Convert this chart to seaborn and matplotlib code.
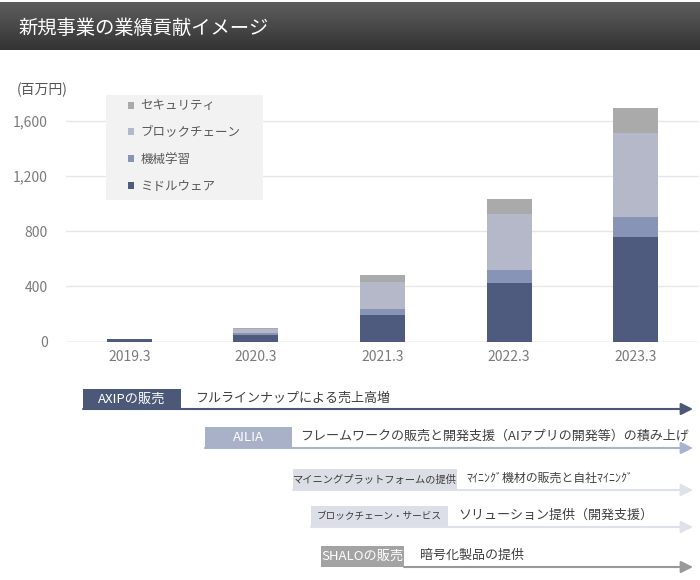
import numpy as np
import pandas as pd
import matplotlib
matplotlib.use("Agg")
import matplotlib.pyplot as plt
from matplotlib.patches import Patch, Rectangle
import seaborn as sns

# ---- data ----
years = ["2019.3", "2020.3", "2021.3", "2022.3", "2023.3"]
middleware = [22, 48, 190, 425, 758]
machine_learning = [0, 14, 45, 95, 144]
blockchain = [0, 30, 200, 405, 606]
security = [0, 10, 48, 105, 181]
series_names = ["ミドルウェア", "機械学習", "ブロックチェーン", "セキュリティ"]
y_ticks = [0, 400, 800, 1200, 1600]
y_tick_labels = ["0", "400", "800", "1,200", "1,600"]
unit_label = "(百万円)"
title = "新規事業の業績貢献イメージ"

rows = [
    ("AXIPの販売", "フルラインナップによる売上高増"),
    ("AILIA", "フレームワークの販売と開発支援（AIアプリの開発等）の積み上げ"),
    ("マイニングプラットフォームの提供", "ﾏｲﾆﾝｸﾞ機材の販売と自社ﾏｲﾆﾝｸﾞ"),
    ("ブロックチェーン・サービス", "ソリューション提供（開発支援）"),
    ("SHALOの販売", "暗号化製品の提供"),
]

colors = ["#4e5b7e", "#8794b6", "#b4b8c9", "#aaaaaa"]

sns.set_style("white")
plt.rcParams["font.family"] = ["Noto Sans CJK JP", "DejaVu Sans"]

W, H = 700, 580
fig = plt.figure(figsize=(7, 5.8), dpi=100)
fig.patch.set_facecolor("white")

# ---- main chart ----
ax_left, ax_right, ax_bottom, ax_top = 66, 699, 341.7, 100
ax = fig.add_axes([ax_left / W, 1 - ax_bottom / H, (ax_right - ax_left) / W,
                   (ax_bottom - ax_top) / H])

df = pd.DataFrame({"year": years, "mw": middleware, "ml": machine_learning,
                   "bc": blockchain, "sec": security})
stack = [df["mw"], df["ml"], df["bc"], df["sec"]]
cums = np.cumsum(np.array(stack, dtype=float), axis=0)

for i in range(3, -1, -1):
    sns.barplot(x=df["year"], y=cums[i], color=colors[i], saturation=1,
                width=0.356, ax=ax, linewidth=0, zorder=2)

ax.set_ylim(0, 1750)
ax.set_xlim(-0.5, 4.5)
ax.set_yticks(y_ticks)
ax.set_yticklabels(y_tick_labels)
ax.set_xlabel("")
ax.set_ylabel("")
for s in ax.spines.values():
    s.set_visible(False)
ax.yaxis.grid(True, color="#e6e6e6", lw=1)
ax.set_axisbelow(True)
ax.axhline(0, color="#dadada", lw=1, zorder=1)
ax.tick_params(axis="y", length=0, pad=13, labelsize=10, labelcolor="#7a7a7a")
ax.tick_params(axis="x", length=0, pad=6, labelsize=10, labelcolor="#7a7a7a")
ax.patch.set_alpha(0)

# legend background box (covers gridlines like the reference)
ax.add_patch(Rectangle((106 / W, 1 - 200 / H), 157 / W, 105 / H,
                       transform=fig.transFigure, facecolor="#f2f2f2",
                       edgecolor="none", zorder=6, clip_on=False))

handles = [Patch(facecolor=colors[i], edgecolor="none", label=series_names[i])
           for i in range(3, -1, -1)]
leg = ax.legend(handles=handles, loc="upper left",
                bbox_to_anchor=(128 / W, 1 - 99.5 / H),
                bbox_transform=fig.transFigure,
                frameon=False, fontsize=9, handlelength=0.5, handleheight=0.5,
                handletextpad=0.5, labelspacing=1.1, borderpad=0,
                borderaxespad=0)
leg.set_zorder(10)
for t in leg.get_texts():
    t.set_color("#595959")

fig.text(17 / W, 1 - 89.5 / H, unit_label, ha="left", va="center",
         fontsize=10, color="#555555")

# ---- title bar ----
tb = fig.add_axes([0, 1 - 50 / H, 1, 48 / H])
grad = np.linspace(0, 1, 100).reshape(-1, 1)
top_c = np.array([0x5e, 0x5e, 0x5e]) / 255
bot_c = np.array([0x33, 0x33, 0x33]) / 255
img = top_c[None, None, :] * (1 - grad[:, :, None]) + bot_c[None, None, :] * grad[:, :, None]
tb.imshow(np.repeat(img, 2, axis=1), aspect="auto", extent=(0, 1, 0, 1))
tb.set_axis_off()
tb.text(18 / W, 0.44, title, color="white", fontsize=13.9, ha="left", va="center",
        transform=tb.transAxes)

# ---- bottom annotations ----
ov = fig.add_axes([0, 0, 1, 1])
ov.set_xlim(0, W)
ov.set_ylim(H, 0)
ov.set_axis_off()

specs = [
    # box x0, x1, top, bottom, box color, label color, label size, arrow start, arrow color, side x, side size
    (83, 181, 389, 409, "#4b5878", "white", 9.5, 83, "#4b5878", 195, 9.4),
    (205, 292, 427, 448, "#a9b1c9", "white", 9.5, 205, "#a9b3cd", 300, 9.4),
    (293, 457, 469, 490, "#dcdee6", "#3a3a3a", 7.4, 293, "#dde1ea", 466, 8.6),
    (311, 448, 506, 527, "#dcdee8", "#3a3a3a", 6.9, 311, "#dde1ea", 458, 9.4),
    (321, 404, 546, 567, "#a3a3a3", "white", 9.5, 404, "#999999", 420, 9.4),
]
for (label, side), (x0, x1, yt, yb, bc, lc, ls, ax0, ac, sx, ss) in zip(rows, specs):
    ov.annotate("", xy=(693, yb), xytext=(ax0, yb),
                arrowprops=dict(arrowstyle="-|>,head_length=0.6,head_width=0.3",
                                color=ac, lw=1.5, mutation_scale=12,
                                shrinkA=0, shrinkB=0))
    ov.add_patch(Rectangle((x0, yt), x1 - x0, yb - yt, facecolor=bc,
                           edgecolor="none", zorder=3))
    ov.text((x0 + x1) / 2, (yt + yb) / 2, label, color=lc, fontsize=ls,
            ha="center", va="center", zorder=4)
    ov.text(sx, (yt + yb) / 2 - 1, side, color="#404040", fontsize=ss,
            ha="left", va="center", zorder=4)

fig.savefig("out.png", dpi=100)
